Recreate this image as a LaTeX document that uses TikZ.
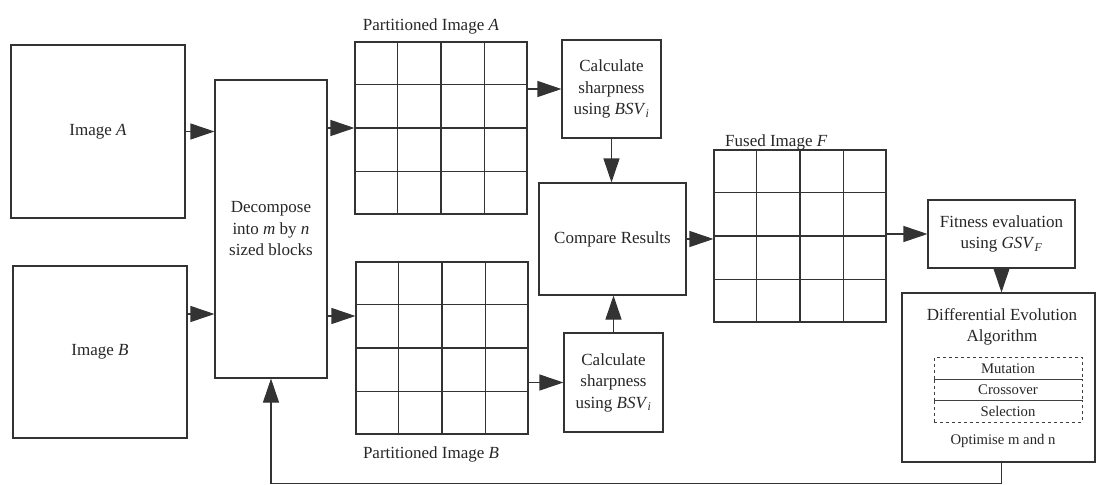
\documentclass[tikz,border=0pt]{standalone}
\usepackage{fontspec}
\setmainfont{Liberation Serif}
\usetikzlibrary{arrows.meta,calc,positioning}
\tikzset{
  box/.style={draw=black!80,line width=1.1pt,inner sep=0pt,align=center,text=black!85,font=\fontsize{17}{21.5}\selectfont},
  arr/.style={draw=black!80,line width=1.1pt,-{Triangle[length=24pt,width=16pt]}},
  stage/.style={draw=black!75,dashed,line width=0.8pt,minimum width=148pt,minimum height=21.5pt,inner sep=0pt,outer sep=0pt,text=black!85,font=\fontsize{14.7}{17}\selectfont},
  lbl/.style={inner sep=0pt,text=black!85,font=\fontsize{17}{21.5}\selectfont}
}
\newcommand{\cells}[1]{%
  \foreach \k in {1,2,3}{%
    \draw[black!80,line width=1.1pt] ($(#1.north west)!\k/4!(#1.north east)$) -- ($(#1.south west)!\k/4!(#1.south east)$);
    \draw[black!80,line width=1.1pt] ($(#1.north west)!\k/4!(#1.south west)$) -- ($(#1.north east)!\k/4!(#1.south east)$);
  }}
\begin{document}
\begin{tikzpicture}[x=1pt,y=-1pt]
\useasboundingbox (0,0) rectangle (1096,485);
\node[box,minimum width=174pt,minimum height=173pt] (imgA) at (98,131.5) {Image \textit{A}};
\node[box,minimum width=174pt,minimum height=172pt] (imgB) at (100,352) {Image \textit{B}};
\node[box,minimum width=112pt,minimum height=298pt] (dec) at (271,229) {Decompose\\into \textit{m} by \textit{n}\\sized blocks};
\node[box,minimum width=172pt,minimum height=172pt] (gA) at (441,128) {};
\node[box,minimum width=172pt,minimum height=172pt] (gB) at (442,348) {};
\cells{gA}
\cells{gB}
\node[lbl,anchor=base] (lA) at (431,30.5) {Partitioned Image \textit{A}};
\node[lbl,anchor=base] (lB) at (431,458) {Partitioned Image \textit{B}};
\node[box,minimum width=99pt,minimum height=98pt] (calcA) at (611.5,89) {Calculate\\sharpness\\using \textit{BSV}\textsubscript{\textit{i}}};
\node[box,minimum width=99pt,minimum height=99pt] (calcB) at (613.5,382.5) {Calculate\\sharpness\\using \textit{BSV}\textsubscript{\textit{i}}};
\node[box,minimum width=147pt,minimum height=112pt] (cmp) at (612.5,239) {Compare Results};
\node[box,minimum width=172pt,minimum height=172pt] (gF) at (800,236) {};
\cells{gF}
\node[lbl,anchor=base west] (lF) at (725,146) {Fused Image \textit{F}};
\node[box,minimum width=147pt,minimum height=68pt] (fit) at (1001.5,234) {Fitness evaluation\\using \textit{GSV}\textsubscript{\textit{F}}};
\node[box,minimum width=193pt,minimum height=169pt] (de) at (998.5,377.5) {};
\node[lbl,align=center] (deT) at (1002,327) {Differential Evolution\\Algorithm};
\node[stage] (mut) at (1008,368.5) {Mutation};
\node[stage,below=0pt of mut] (cro) {Crossover};
\node[stage,below=0pt of cro] (sel) {Selection};
\node[lbl,font=\fontsize{14.7}{17}\selectfont] (opt) at (1003,441) {Optimise m and n};
\coordinate (bOut) at ($(imgB.east)+(0,-38)$);
\coordinate (bIn) at ($(gB.west)+(0,-32)$);
\draw[arr] (imgA.east) -- (imgA.east -| dec.west);
\draw[arr] (bOut) -- (bOut -| dec.west);
\draw[arr] (dec.east |- gA.west) -- (gA.west);
\draw[arr] (dec.east |- bIn) -- (bIn);
\draw[arr] (gA.east |- calcA.west) -- (calcA.west);
\draw[arr] (gB.east |- calcB.west) -- (calcB.west);
\draw[arr] (calcA.south) -- (calcA.south |- cmp.north);
\draw[arr] (calcB.north) -- (calcB.north |- cmp.south);
\draw[arr] (cmp.east) -- (cmp.east -| gF.west);
\draw[arr] (gF.east |- fit.west) -- (fit.west);
\draw[arr] (fit.south) -- (fit.south |- de.north);
\draw[arr] (de.south -| fit.south) -- ++(0,21) -| (dec.south);
\end{tikzpicture}
\end{document}
